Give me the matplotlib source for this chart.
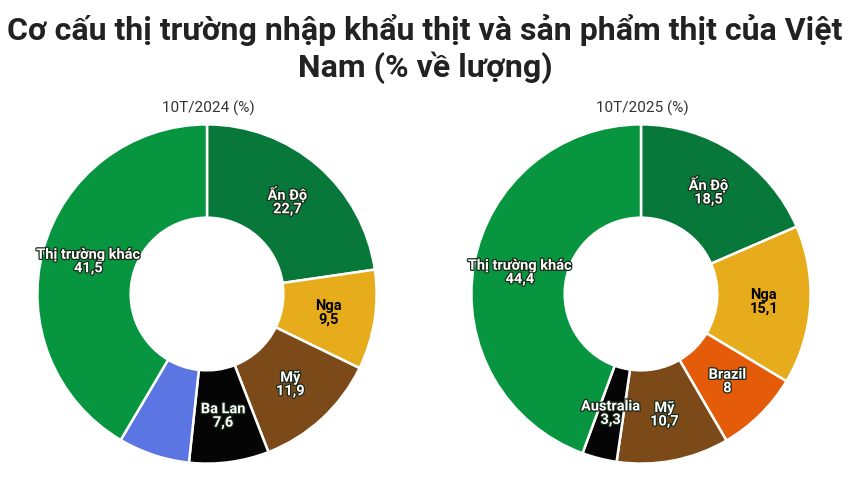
import matplotlib
matplotlib.use('Agg')
import numpy as np
import matplotlib.pyplot as plt
import matplotlib.patheffects as pe

plt.rcParams['font.family'] = ['Roboto', 'DejaVu Sans']

# 10T/2024
labels_2024 = ['Ấn Độ', 'Nga', 'Mỹ', 'Ba Lan', '', 'Thị trường khác']
values_2024 = [22.7, 9.5, 11.9, 7.6, 6.8, 41.5]
colors_2024 = ['#08773a', '#e6ac1c', '#7c4a18', '#050505', '#5b76e2', '#07953f']
txtcol_2024 = ['white', 'black', 'white', 'white', 'white', 'white']

# 10T/2025
labels_2025 = ['Ấn Độ', 'Nga', 'Brazil', 'Mỹ', 'Australia', 'Thị trường khác']
values_2025 = [18.5, 15.1, 8, 10.7, 3.3, 44.4]
colors_2025 = ['#08773a', '#e6ac1c', '#e45b0a', '#7c4a18', '#050505', '#07953f']
txtcol_2025 = ['white', 'black', 'white', 'white', 'white', 'white']

def fmt(v):
    s = ('%.1f' % v).rstrip('0').rstrip('.')
    return s.replace('.', ',')

def donut(ax, labels, values, colors, txtcol):
    wedges, _ = ax.pie(values, colors=colors, startangle=90, counterclock=False,
                       radius=1, wedgeprops=dict(width=0.55, edgecolor='white',
                                                 linewidth=1.8, joinstyle='round'))
    for w, lab, v, tc in zip(wedges, labels, values, txtcol):
        if not lab:
            continue
        ang = np.deg2rad((w.theta1 + w.theta2) / 2)
        r = 0.725
        x, y = r * np.cos(ang), r * np.sin(ang)
        if tc == 'white':
            fx = [pe.withStroke(linewidth=1.8, foreground='#1a2a1a')]
        else:
            fx = []
        ax.text(x, y, lab + '\n' + fmt(v), ha='center', va='center', color=tc,
                fontsize=10.5, fontweight='bold', linespacing=0.95, path_effects=fx)
    ax.set_xlim(-1.02, 1.02)
    ax.set_ylim(-1.02, 1.02)
    ax.set_aspect('equal')
    ax.axis('off')

fig = plt.figure(figsize=(8.5, 4.83), dpi=100)

ax1 = fig.add_axes([(207 - 173) / 850, (483 - 294 - 173) / 483, 346 / 850, 346 / 483])
donut(ax1, labels_2024, values_2024, colors_2024, txtcol_2024)

ax2 = fig.add_axes([(641 - 173) / 850, (483 - 294 - 173) / 483, 346 / 850, 346 / 483])
donut(ax2, labels_2025, values_2025, colors_2025, txtcol_2025)

fig.text(208 / 850, 1 - 108 / 483, '10T/2024 (%)', ha='center', va='center',
         fontsize=11, color='#333333')
fig.text(642 / 850, 1 - 108 / 483, '10T/2025 (%)', ha='center', va='center',
         fontsize=11, color='#333333')

fig.text(0.5, 1 - 30 / 483, 'Cơ cấu thị trường nhập khẩu thịt và sản phẩm thịt của Việt',
         ha='center', va='center', fontsize=23, fontweight='bold', color='#222222')
fig.text(0.5, 1 - 68 / 483, 'Nam (% về lượng)',
         ha='center', va='center', fontsize=23, fontweight='bold', color='#222222')

fig.savefig('out.png', dpi=100, facecolor='white')
